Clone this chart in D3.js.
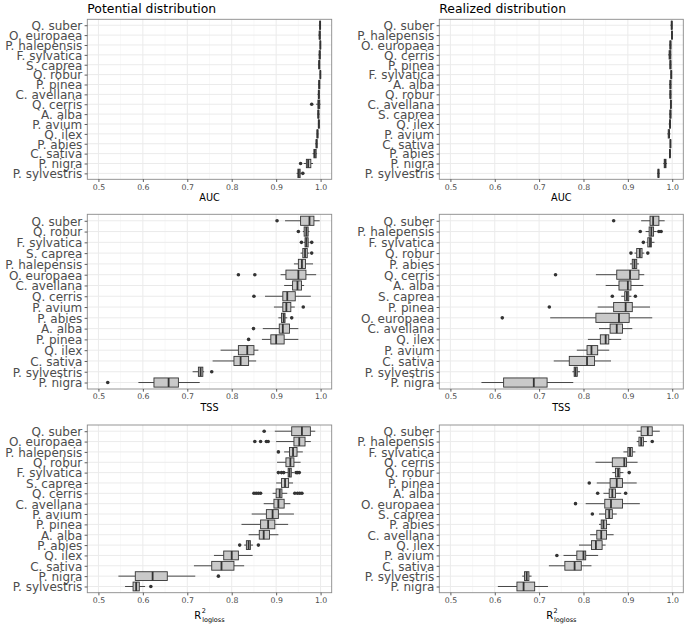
<!DOCTYPE html>
<html><head><meta charset="utf-8">
<script src="https://cdn.jsdelivr.net/npm/d3@7"></script>
<style>body{margin:0;background:#fff}svg{display:block}text{font-family:"DejaVu Sans",sans-serif}</style>
</head><body><svg id="c" width="687" height="626"></svg>
<script>
// ---------- DATA ----------
// stats per category: [lower whisker, q1, median, q3, upper whisker]
const aucPotCats = ["Q. suber","O. europaea","P. halepensis","F. sylvatica","S. caprea","Q. robur","P. pinea","C. avellana","Q. cerris","A. alba","P. avium","Q. ilex","P. abies","C. sativa","P. nigra","P. sylvestris"];
const aucPotStats = [[0.996,0.998,0.999,0.9995,1.0],[0.995,0.997,0.998,0.999,1.0],[0.998,0.999,0.9995,1.0,1.0],[0.995,0.997,0.998,0.999,1.0],[0.994,0.996,0.997,0.998,0.999],[0.998,0.999,0.9995,1.0,1.0],[0.994,0.996,0.997,0.998,0.999],[0.993,0.995,0.996,0.997,0.998],[0.99,0.994,0.996,0.998,1.0],[0.992,0.994,0.995,0.996,0.998],[0.994,0.995,0.996,0.997,0.998],[0.991,0.992,0.993,0.994,0.995],[0.988,0.99,0.991,0.992,0.993],[0.982,0.985,0.987,0.99,0.992],[0.962,0.968,0.972,0.978,0.983],[0.946,0.949,0.951,0.954,0.957]];
const aucPotOut = [[],[],[],[],[],[],[],[],[0.98],[],[],[],[],[],[0.955],[0.96]];

const aucRealCats = ["Q. suber","P. halepensis","O. europaea","Q. cerris","P. pinea","F. sylvatica","A. alba","Q. robur","C. avellana","S. caprea","Q. ilex","P. avium","C. sativa","P. abies","P. nigra","P. sylvestris"];
const aucRealStats = [[0.996,0.998,0.999,0.9995,1.0],[0.998,0.999,0.9995,1.0,1.0],[0.993,0.995,0.996,0.997,0.998],[0.991,0.993,0.995,0.997,0.998],[0.994,0.995,0.996,0.997,0.998],[0.996,0.997,0.998,0.9985,0.999],[0.993,0.995,0.996,0.997,0.998],[0.994,0.995,0.996,0.997,0.998],[0.995,0.996,0.997,0.9975,0.998],[0.993,0.995,0.996,0.997,0.998],[0.992,0.994,0.995,0.996,0.997],[0.989,0.991,0.993,0.994,0.996],[0.995,0.9955,0.996,0.9965,0.997],[0.993,0.994,0.995,0.9955,0.996],[0.98,0.982,0.984,0.986,0.988],[0.966,0.968,0.969,0.97,0.972]];
const aucRealOut = [[],[],[],[],[],[],[],[],[],[],[],[],[],[],[],[]];

const tssPotCats = ["Q. suber","Q. robur","F. sylvatica","S. caprea","P. halepensis","O. europaea","C. avellana","Q. cerris","P. avium","P. abies","A. alba","P. pinea","Q. ilex","C. sativa","P. sylvestris","P. nigra"];
const tssPotStats = [[0.92,0.955,0.975,0.985,0.998],[0.96,0.963,0.968,0.972,0.975],[0.962,0.965,0.968,0.972,0.975],[0.955,0.96,0.965,0.97,0.975],[0.94,0.95,0.958,0.966,0.983],[0.91,0.922,0.95,0.967,0.99],[0.918,0.937,0.948,0.957,0.963],[0.875,0.915,0.925,0.943,0.978],[0.895,0.915,0.923,0.933,0.942],[0.905,0.912,0.917,0.92,0.925],[0.87,0.907,0.915,0.93,0.95],[0.868,0.888,0.9,0.918,0.95],[0.775,0.815,0.835,0.85,0.86],[0.757,0.805,0.82,0.838,0.855],[0.712,0.725,0.73,0.735,0.738],[0.59,0.625,0.658,0.68,0.728]];
const tssPotOut = [[0.902],[0.95],[0.957,0.98],[0.98],[],[0.815,0.852],[],[0.85],[0.961],[0.935],[0.849],[0.838],[],[],[0.755],[0.521]];

const tssRealCats = ["Q. suber","P. halepensis","F. sylvatica","Q. robur","P. abies","Q. cerris","A. alba","S. caprea","P. pinea","O. europaea","C. avellana","Q. ilex","P. avium","C. sativa","P. sylvestris","P. nigra"];
const tssRealStats = [[0.93,0.95,0.957,0.97,0.983],[0.94,0.948,0.953,0.958,0.965],[0.942,0.945,0.95,0.953,0.96],[0.915,0.92,0.927,0.932,0.937],[0.905,0.91,0.915,0.92,0.925],[0.828,0.875,0.905,0.925,0.937],[0.85,0.88,0.9,0.907,0.935],[0.885,0.893,0.898,0.902,0.908],[0.832,0.868,0.895,0.91,0.95],[0.725,0.828,0.88,0.903,0.955],[0.835,0.86,0.875,0.888,0.91],[0.81,0.838,0.85,0.857,0.885],[0.785,0.808,0.818,0.832,0.858],[0.733,0.768,0.808,0.825,0.862],[0.775,0.779,0.782,0.786,0.792],[0.57,0.62,0.688,0.718,0.777]];
const tssRealOut = [[0.868],[0.928,0.97,0.975],[0.935],[0.907,0.945],[],[0.737],[],[0.865,0.917],[0.723],[0.617],[],[],[],[],[],[]];

const r2PotCats = ["Q. suber","O. europaea","P. halepensis","Q. robur","F. sylvatica","S. caprea","Q. cerris","C. avellana","P. avium","P. pinea","A. alba","P. abies","Q. ilex","C. sativa","P. nigra","P. sylvestris"];
const r2PotStats = [[0.897,0.935,0.958,0.977,0.988],[0.9,0.94,0.952,0.965,0.978],[0.918,0.93,0.938,0.947,0.96],[0.902,0.922,0.932,0.94,0.955],[0.92,0.927,0.93,0.934,0.94],[0.9,0.912,0.92,0.928,0.938],[0.892,0.9,0.908,0.913,0.925],[0.872,0.895,0.905,0.918,0.932],[0.845,0.878,0.892,0.905,0.94],[0.822,0.865,0.882,0.897,0.927],[0.838,0.862,0.872,0.885,0.905],[0.828,0.833,0.838,0.842,0.848],[0.76,0.782,0.8,0.815,0.847],[0.715,0.755,0.777,0.805,0.828],[0.545,0.583,0.622,0.655,0.718],[0.56,0.578,0.585,0.592,0.605]];
const r2PotOut = [[0.873],[0.852,0.865,0.878,0.882],[0.905],[],[0.905,0.912,0.917,0.945,0.948,0.952],[],[0.85,0.855,0.86,0.865,0.942,0.948,0.953,0.958],[],[],[],[],[0.818,0.86],[],[],[0.77],[0.618]];

const r2RealCats = ["Q. suber","P. halepensis","F. sylvatica","Q. cerris","Q. robur","P. pinea","A. alba","O. europaea","S. caprea","P. abies","C. avellana","Q. ilex","P. avium","C. sativa","P. sylvestris","P. nigra"];
const r2RealStats = [[0.92,0.93,0.945,0.955,0.972],[0.92,0.925,0.93,0.935,0.943],[0.89,0.9,0.905,0.91,0.917],[0.827,0.865,0.892,0.897,0.922],[0.865,0.872,0.878,0.882,0.89],[0.83,0.86,0.875,0.888,0.92],[0.845,0.858,0.865,0.872,0.885],[0.805,0.848,0.862,0.888,0.927],[0.835,0.85,0.858,0.865,0.875],[0.835,0.84,0.845,0.852,0.86],[0.815,0.83,0.84,0.852,0.868],[0.79,0.818,0.828,0.842,0.85],[0.755,0.785,0.8,0.805,0.833],[0.722,0.758,0.78,0.795,0.818],[0.662,0.667,0.672,0.677,0.683],[0.607,0.65,0.665,0.69,0.72]];
const r2RealOut = [[],[0.955],[],[],[0.903],[0.813],[0.832,0.895],[0.782],[0.82],[],[],[],[0.74],[],[],[]];

const xTicks = [0.5,0.6,0.7,0.8,0.9,1.0];
const xMinor = [0.55,0.65,0.75,0.85,0.95];
const colTitles = ["Potential distribution","Realized distribution"];
const rowTitles = ["AUC","TSS","R2"];

// ---------- LAYOUT ----------
const svg = d3.select("#c");
const colX = [[87.3,331.7],[439.3,683.3]];
const rowY = [[19.3,179.3],[214.3,389],[425,592.7]];
const panels = [
  {r:0,c:0,cats:aucPotCats,stats:aucPotStats,out:aucPotOut},
  {r:0,c:1,cats:aucRealCats,stats:aucRealStats,out:aucRealOut},
  {r:1,c:0,cats:tssPotCats,stats:tssPotStats,out:tssPotOut},
  {r:1,c:1,cats:tssRealCats,stats:tssRealStats,out:tssRealOut},
  {r:2,c:0,cats:r2PotCats,stats:r2PotStats,out:r2PotOut},
  {r:2,c:1,cats:r2RealCats,stats:r2RealStats,out:r2RealOut}
];
const ink = "#333333";

panels.forEach((p,i)=>{
  const [x0,x1]=colX[p.c], [y0,y1]=rowY[p.r];
  const x = d3.scaleLinear().domain([0.475,1.025]).range([x0,x1]);
  const y = d3.scalePoint().domain(p.cats).range([y0,y1]).padding(0.6);
  const step = y.step();
  const g = svg.append("g");
  const cid = "clip"+i;
  svg.append("clipPath").attr("id",cid).append("rect").attr("x",x0).attr("y",y0).attr("width",x1-x0).attr("height",y1-y0);
  // grid
  g.selectAll(".mn").data(xMinor).join("line").attr("x1",d=>x(d)).attr("x2",d=>x(d)).attr("y1",y0).attr("y2",y1).attr("stroke","#f2f2f2").attr("stroke-width",0.55);
  g.selectAll(".mj").data(xTicks).join("line").attr("x1",d=>x(d)).attr("x2",d=>x(d)).attr("y1",y0).attr("y2",y1).attr("stroke","#ebebeb").attr("stroke-width",1);
  g.selectAll(".hj").data(p.cats).join("line").attr("x1",x0).attr("x2",x1).attr("y1",d=>y(d)).attr("y2",d=>y(d)).attr("stroke","#ebebeb").attr("stroke-width",1);
  // boxes
  const bh = step*0.85;
  const d = g.append("g").attr("clip-path",`url(#${cid})`);
  p.cats.forEach((c,k)=>{
    const s=p.stats[k], cy=y(c);
    d.append("line").attr("x1",x(s[0])).attr("x2",x(s[1])).attr("y1",cy).attr("y2",cy).attr("stroke",ink).attr("stroke-width",0.9);
    d.append("line").attr("x1",x(s[3])).attr("x2",x(s[4])).attr("y1",cy).attr("y2",cy).attr("stroke",ink).attr("stroke-width",0.9);
    d.append("rect").attr("x",x(s[1])).attr("y",cy-bh/2).attr("width",Math.max(0.01,x(s[3])-x(s[1]))).attr("height",bh).attr("fill","#c9c9c9").attr("stroke",ink).attr("stroke-width",0.9);
    d.append("line").attr("x1",x(s[2])).attr("x2",x(s[2])).attr("y1",cy-bh/2).attr("y2",cy+bh/2).attr("stroke",ink).attr("stroke-width",1.8);
    p.out[k].forEach(v=>{
      d.append("circle").attr("cx",x(v)).attr("cy",cy).attr("r",1.8).attr("fill",ink);
    });
  });
  // border
  g.append("rect").attr("x",x0).attr("y",y0).attr("width",x1-x0).attr("height",y1-y0).attr("fill","none").attr("stroke","#8a8a8a").attr("stroke-width",0.9);
  // axes
  const ax = g.append("g").attr("transform",`translate(0,${y1})`).call(d3.axisBottom(x).tickValues(xTicks).tickFormat(d3.format(".1f")).tickSize(2.7).tickPadding(2));
  ax.select(".domain").remove();
  ax.selectAll("line").attr("stroke",ink).attr("stroke-width",0.8);
  ax.selectAll("text").attr("fill","#4d4d4d").attr("font-size",7.8).attr("font-family","DejaVu Sans");
  const ay = g.append("g").attr("transform",`translate(${x0},0)`).call(d3.axisLeft(y).tickSize(2.7).tickPadding(2.3));
  ay.select(".domain").remove();
  ay.selectAll("line").attr("stroke",ink).attr("stroke-width",0.8);
  ay.selectAll("text").attr("fill","#4d4d4d").attr("font-size",12).attr("font-family","DejaVu Sans").attr("dy","0.36em");
  // axis title
  const cx=(x0+x1)/2;
  if(rowTitles[p.r]==="R2"){
    const t = g.append("text").attr("x",cx).attr("y",619).attr("text-anchor","middle").attr("font-size",10).attr("fill","#000");
    t.append("tspan").text("R");
    t.append("tspan").attr("font-size",6.5).attr("dy",-6).attr("dx",0.5).text("2");
    t.append("tspan").attr("font-size",6.5).attr("dy",8.5).attr("dx",-3.8).text("logloss");
  } else {
    g.append("text").attr("x",cx).attr("y",y1+22).attr("text-anchor","middle").attr("font-size",9.7).attr("fill","#000").text(rowTitles[p.r]);
  }
  if(p.r===0){
    g.append("text").attr("x",x0).attr("y",12.5).attr("font-size",12.4).attr("fill","#000").text(colTitles[p.c]);
  }
});
</script></body></html>
